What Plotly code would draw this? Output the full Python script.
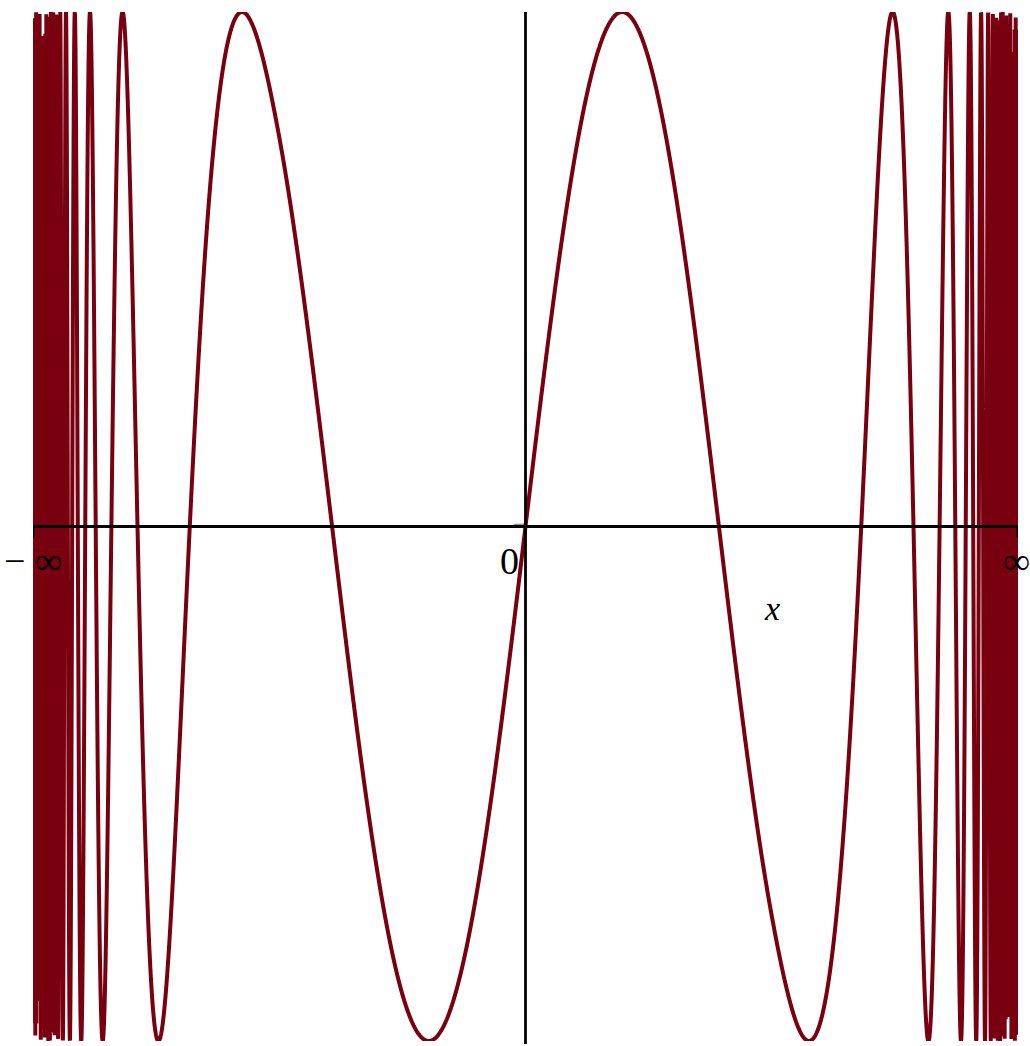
import numpy as np
import plotly.graph_objects as go

# Plot of sin(x) over the whole real line, drawn on a compressed "infinite" axis:
# |x| <= 4 maps linearly (x/8), beyond that x maps to sign(x)*(1 - 2/|x|),
# so -infinity .. infinity lands on -1 .. 1.
x_tick_labels = ["\u2212 \u221e", "0", "\u221e"]
x_tick_pos = [-1.0, 0.0, 1.0]
axis_title = "x"
curve_color = "rgb(120,0,15)"


def to_axis(x):
    x = np.asarray(x, dtype=float)
    a = np.abs(x)
    return np.where(a <= 4, x / 8.0, np.sign(x) * (1.0 - 2.0 / np.maximum(a, 1e-12)))


def from_axis(u):
    u = np.asarray(u, dtype=float)
    a = np.abs(u)
    return np.where(a <= 0.5, 8.0 * u, np.sign(u) * 2.0 / (1.0 - a))


# sample uniformly along the compressed axis (dense oscillations alias near the ends)
u_samples = np.linspace(-0.9996, 0.9996, 6001)
x_samples = from_axis(u_samples)
y_samples = np.sin(x_samples)

fig = go.Figure()
fig.add_trace(go.Scatter(
    x=to_axis(x_samples), y=y_samples, mode="lines",
    line=dict(color=curve_color, width=4.0, simplify=False),
    hoverinfo="skip", showlegend=False,
))

shapes = [
    # horizontal axis
    dict(type="line", xref="x", yref="y", x0=-1, x1=1, y0=0, y1=0,
         line=dict(color="black", width=2.8), layer="above"),
    # end ticks at -inf / +inf
    dict(type="line", xref="x", yref="y", x0=-1, x1=-1, y0=0, y1=-0.022,
         line=dict(color="black", width=2.8), layer="above"),
    dict(type="line", xref="x", yref="y", x0=1, x1=1, y0=0, y1=-0.022,
         line=dict(color="black", width=2.8), layer="above"),
    # vertical axis
    dict(type="line", xref="x", yref="paper", x0=0, x1=0, y0=-0.003, y1=1.0,
         line=dict(color="black", width=2.8), layer="above"),
    # small tick at the origin
    dict(type="line", xref="x", yref="y", x0=-0.024, x1=0, y0=0.004, y1=0.004,
         line=dict(color="rgb(150,150,150)", width=1.5), layer="below"),
]

font = dict(family="Liberation Serif, Times New Roman, serif", size=38, color="black")
annotations = []
xshifts = [0, -16, -2]
for pos, lab, xs in zip(x_tick_pos, x_tick_labels, xshifts):
    annotations.append(dict(
        x=pos, y=-0.068, xref="x", yref="y", text=lab, showarrow=False,
        font=font, xanchor="center", yanchor="middle", xshift=xs,
    ))
annotations.append(dict(
    x=0.5, y=-0.16, xref="x", yref="y", text="<i>" + axis_title + "</i>",
    showarrow=False, xanchor="center", yanchor="middle",
    font=dict(family="Liberation Serif, Times New Roman, serif", size=34, color="black"),
))

fig.update_layout(
    width=1030, height=1046,
    margin=dict(l=33, r=12, t=12, b=5),
    paper_bgcolor="white", plot_bgcolor="white",
    xaxis=dict(range=[-1, 1], visible=False, fixedrange=True),
    yaxis=dict(range=[-1, 1], visible=False, fixedrange=True),
    shapes=shapes, annotations=annotations,
)

fig.write_html("out.html")
